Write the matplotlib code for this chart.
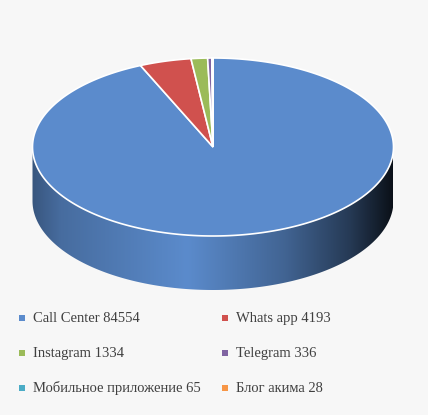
import matplotlib.pyplot as plt
import numpy as np
from matplotlib.patches import Polygon, Rectangle
from matplotlib.colors import to_rgb

labels = ['Call Center', 'Whats app', 'Instagram', 'Telegram',
          'Мобильное приложение', 'Блог акима']
values = [84554, 4193, 1334, 336, 65, 28]
colors = ['#5b8bcc', '#d0514e', '#9bbb59', '#8064a2', '#4bacc6', '#f79646']

W, H = 428, 415
fig = plt.figure(figsize=(W / 100, H / 100), dpi=100, facecolor='#f7f7f7')
ax = fig.add_axes([0, 0, 1, 1])
ax.set_xlim(0, W)
ax.set_ylim(H, 0)
ax.axis('off')

cx, cy, rx, ry, depth = 213, 147, 180.5, 89, 54


def pt(theta, dy=0):
    # angle clockwise from 12 o'clock
    return cx + rx * np.sin(theta), cy - ry * np.cos(theta) + dy


def shade(t):
    # lighting across the visible side wall, left -> right
    return np.interp(t, [0, 0.08, 0.43, 0.7, 0.88, 1.0],
                     [0.62, 0.78, 1.0, 0.72, 0.42, 0.12])


total = sum(values)
bounds = np.concatenate([[0], np.cumsum(values) / total * 2 * np.pi])

# side walls (front half only)
for i in range(len(values)):
    a0, a1 = max(bounds[i], np.pi / 2), min(bounds[i + 1], 3 * np.pi / 2)
    if a1 <= a0:
        continue
    th = np.linspace(a0, a1, 200)
    xs, ys = pt(th)
    xb, yb = pt(th[::-1], depth)
    poly = Polygon(np.column_stack([np.r_[xs, xb], np.r_[ys, yb]]),
                   closed=True, facecolor='none', edgecolor='none')
    ax.add_patch(poly)
    t = np.linspace(0, 1, 400)
    base = np.array(to_rgb(colors[i]))
    img = np.clip(shade(t)[None, :, None] * base[None, None, :], 0, 1)
    im = ax.imshow(img, extent=[cx - rx, cx + rx, cy + ry + depth + 2, cy - 5],
                   aspect='auto', interpolation='bilinear', zorder=2)
    im.set_clip_path(poly)

# top face
for i in range(len(values)):
    th = np.linspace(bounds[i], bounds[i + 1], max(3, int(400 * values[i] / total)))
    xs, ys = pt(th)
    ax.add_patch(Polygon(np.column_stack([np.r_[cx, xs], np.r_[cy, ys]]),
                         closed=True, facecolor=colors[i], edgecolor='white',
                         linewidth=1.2, joinstyle='miter', zorder=3))

# legend
font = dict(family='Liberation Serif', fontsize=10.5, color='#404040', va='center')
col_x = [22, 225]
row_y = [318, 353, 388]
for i, (lab, val) in enumerate(zip(labels, values)):
    x, y = col_x[i % 2], row_y[i // 2]
    ax.add_patch(Rectangle((x - 3, y - 3), 6, 6, facecolor=colors[i],
                           edgecolor='none', zorder=4))
    ax.text(x + 11, y, f'{lab} {val}', **font)

plt.savefig('out.png', dpi=100, facecolor=fig.get_facecolor())
